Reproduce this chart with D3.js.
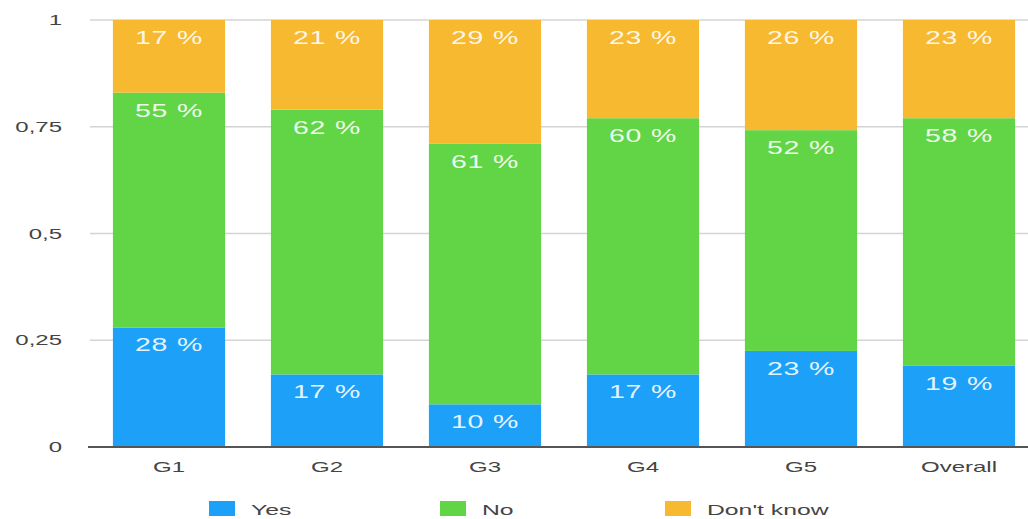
<!DOCTYPE html>
<html>
<head>
<meta charset="utf-8">
<title>Stacked answers by group</title>
<script src="https://d3js.org/d3.v7.min.js"></script>
<style>
  body { margin: 0; background: #fff; }
  svg { display: block; font-family: "Liberation Sans", Arial, sans-serif; }
</style>
</head>
<body>
<div id="chart"></div>
<script>
// data (percent of answers per group)
var groups = ["G1", "G2", "G3", "G4", "G5", "Overall"];
var answers = ["Yes", "No", "Don't know"];
var yesVals = [28, 17, 10, 17, 22.5, 19];
var noVals = [55, 62, 61, 60, 51.7, 58];
var dkVals = [17, 21, 29, 23, 25.8, 23];
var yTicks = [0, 0.25, 0.5, 0.75, 1];
var yTickLabels = ["0", "0,25", "0,5", "0,75", "1"];

var colors = ["#1da1f8", "#62d547", "#f6b92f"];
var stretch = 1.5; // the picture is wide, text looks stretched

var W = 1028, H = 519;
var margin = {top: 20, left: 90, bottom: 72};
var plotBottom = H - margin.bottom;

var svg = d3.select("#chart").append("svg")
    .attr("width", W)
    .attr("height", H);

var rows = groups.map(function(g, i) {
    return {group: g, "Yes": yesVals[i] / 100, "No": noVals[i] / 100, "Don't know": dkVals[i] / 100};
});
var stacked = d3.stack().keys(answers)(rows);

var x = d3.scaleBand().domain(groups)
    .range([margin.left, margin.left + 948])
    .paddingInner(0.29).paddingOuter(0.145);
var y = d3.scaleLinear().domain([0, 1]).range([plotBottom, margin.top]);

// grid lines
svg.append("g").selectAll("line")
    .data(yTicks.slice(1))
    .enter().append("line")
    .attr("x1", margin.left).attr("x2", W)
    .attr("y1", function(d) { return y(d); })
    .attr("y2", function(d) { return y(d); })
    .attr("stroke", "#d4d4d4")
    .attr("stroke-width", 1.5);

// y tick labels
svg.append("g").selectAll("text")
    .data(yTicks)
    .enter().append("text")
    .attr("transform", function(d) { return "translate(62," + (y(d) + 5) + ") scale(1.6,1)"; })
    .attr("text-anchor", "end")
    .attr("font-size", 15)
    .attr("fill", "#444")
    .text(function(d, i) { return yTickLabels[i]; });

// bars
var layer = svg.append("g").selectAll("g")
    .data(stacked)
    .enter().append("g")
    .attr("fill", function(d, i) { return colors[i]; });

layer.selectAll("rect")
    .data(function(d) { return d; })
    .enter().append("rect")
    .attr("x", function(d) { return x(d.data.group); })
    .attr("width", x.bandwidth())
    .attr("y", function(d) { return y(d[1]); })
    .attr("height", function(d) { return y(d[0]) - y(d[1]); });

// value labels at the top of each segment
layer.selectAll("text")
    .data(function(d) { return d; })
    .enter().append("text")
    .attr("transform", function(d) {
        var cx = x(d.data.group) + x.bandwidth() / 2;
        return "translate(" + cx + "," + (y(d[1]) + 24) + ") scale(" + stretch + ",1)";
    })
    .attr("text-anchor", "middle")
    .attr("font-size", 19)
    .attr("letter-spacing", 0.5)
    .attr("fill", "#fff")
    .attr("fill-opacity", 0.9)
    .text(function(d) { return Math.round((d[1] - d[0]) * 100) + " %"; });

// baseline
svg.append("line")
    .attr("x1", margin.left - 2).attr("x2", W)
    .attr("y1", plotBottom).attr("y2", plotBottom)
    .attr("stroke", "#555")
    .attr("stroke-width", 2);

// x labels
svg.append("g").selectAll("text")
    .data(groups)
    .enter().append("text")
    .attr("transform", function(d) { return "translate(" + (x(d) + x.bandwidth() / 2) + "," + (plotBottom + 25) + ") scale(1.6,1)"; })
    .attr("text-anchor", "middle")
    .attr("font-size", 15)
    .attr("fill", "#444")
    .text(function(d) { return d; });

// legend
var legendX = [209, 440, 665];
var legend = svg.append("g").selectAll("g")
    .data(answers)
    .enter().append("g")
    .attr("transform", function(d, i) { return "translate(" + legendX[i] + ",501)"; });

legend.append("rect")
    .attr("width", 26).attr("height", 15)
    .attr("fill", function(d, i) { return colors[i]; });

legend.append("text")
    .attr("transform", "translate(42,14) scale(1.65,1)")
    .attr("font-size", 15)
    .attr("fill", "#444")
    .text(function(d) { return d; });
</script>
</body>
</html>
